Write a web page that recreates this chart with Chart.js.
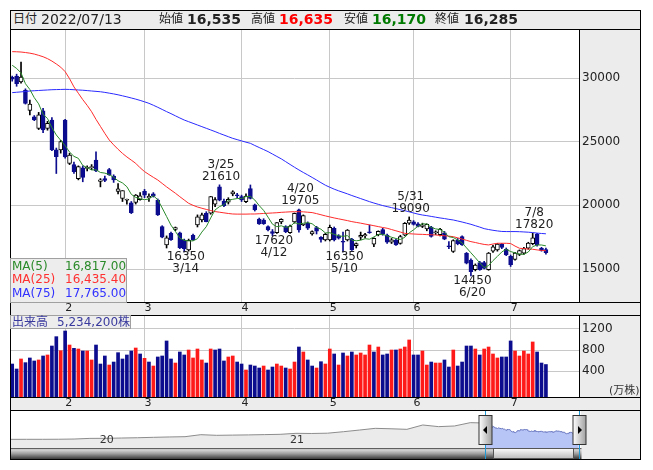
<!DOCTYPE html>
<html lang="ja"><head><meta charset="utf-8">
<script src="https://cdn.jsdelivr.net/npm/chart.js@4.4.1/dist/chart.umd.min.js"></script>
<style>
html,body{margin:0;padding:0;}
body{width:653px;height:470px;position:relative;overflow:hidden;background:#fff;font-family:"DejaVu Sans","Noto Sans CJK JP",sans-serif;color:#222;}
.a{position:absolute;box-sizing:border-box;white-space:nowrap;}
.bg{background:#ececec;}
.ln{background:#000;z-index:3;}
canvas{position:absolute;z-index:2;}
.t{position:absolute;z-index:4;white-space:nowrap;line-height:1;}
</style></head><body>
<div class="a bg" style="left:11px;top:11px;width:629px;height:18px"></div>
<div class="a" style="left:11px;top:30px;width:568px;height:272px;background:#fff"></div>
<div class="a bg" style="left:580px;top:30px;width:60px;height:272px"></div>
<div class="a bg" style="left:11px;top:303px;width:629px;height:12px"></div>
<div class="a bg" style="left:580px;top:316px;width:60px;height:81px"></div>
<div class="a bg" style="left:11px;top:398px;width:629px;height:12px"></div>
<div class="a bg" style="left:581px;top:411px;width:59px;height:48px"></div>

<div class="a ln" style="left:10px;top:10px;width:631px;height:1px"></div>
<div class="a ln" style="left:10px;top:459px;width:631px;height:1px"></div>
<div class="a ln" style="left:10px;top:10px;width:1px;height:450px"></div>
<div class="a ln" style="left:640px;top:10px;width:1px;height:450px"></div>
<div class="a ln" style="left:10px;top:29px;width:631px;height:1px"></div>
<div class="a ln" style="left:10px;top:302px;width:631px;height:1px"></div>
<div class="a ln" style="left:10px;top:315px;width:631px;height:1px"></div>
<div class="a ln" style="left:10px;top:397px;width:631px;height:1px"></div>
<div class="a ln" style="left:10px;top:410px;width:631px;height:1px"></div>
<div class="a ln" style="left:579px;top:30px;width:1px;height:272px"></div>
<div class="a ln" style="left:579px;top:316px;width:1px;height:81px"></div>

<div id="hdr"></div>

<div class="a" style="left:10px;top:258px;width:117px;height:45px;background:#ededed;border:1px solid #a0a0a0;z-index:4"></div>
<div id="maLegend"></div>

<div class="a" style="left:10px;top:315px;width:121px;height:14px;background:#ededed;border:1px solid #a0a0a0;z-index:4"></div>
<div id="volLabel"></div>
<div class="t" style="left:609px;top:385px;font-size:11px;color:#333">(万株)</div>

<canvas id="main" width="630" height="285" style="left:10px;top:30px;width:630px;height:285px"></canvas>
<canvas id="vol" width="630" height="94" style="left:10px;top:316px;width:630px;height:94px"></canvas>
<canvas id="nav" width="630" height="48" style="left:10px;top:411px;width:630px;height:48px"></canvas>

<script>
// ---------------- DATA ----------------
const year = 2022;
const dates = ['1/14','1/17','1/18','1/19','1/20','1/21','1/24','1/25','1/26','1/27','1/28','1/31',
'2/1','2/2','2/3','2/4','2/7','2/8','2/9','2/10','2/14','2/15','2/16','2/17','2/18','2/21','2/22','2/24','2/25','2/28',
'3/1','3/2','3/3','3/4','3/7','3/8','3/9','3/10','3/11','3/14','3/15','3/16','3/17','3/18','3/22','3/23','3/24','3/25','3/28','3/29','3/30','3/31',
'4/1','4/4','4/5','4/6','4/7','4/8','4/11','4/12','4/13','4/14','4/15','4/18','4/19','4/20','4/21','4/22','4/25','4/26','4/27','4/28',
'5/2','5/6','5/9','5/10','5/11','5/12','5/13','5/16','5/17','5/18','5/19','5/20','5/23','5/24','5/25','5/26','5/27','5/30','5/31',
'6/1','6/2','6/3','6/6','6/7','6/8','6/9','6/10','6/13','6/14','6/15','6/16','6/17','6/20','6/21','6/22','6/23','6/24','6/27','6/28','6/29','6/30',
'7/1','7/4','7/5','7/6','7/7','7/8','7/11','7/12','7/13'];

const opens = [30050,30150,29700,29050,27450,26960,26050,27430,26050,26700,24350,24350,
26700,23300,23200,22100,22950,22900,22950,23550,21880,22100,22800,22300,21100,20550,20400,20200,20230,20450,
21100,20600,20900,20420,18330,16900,17800,18100,17850,17280,16500,17650,18460,18850,19380,19380,20100,21450,20340,20250,20900,20800,
20680,20290,21320,20030,18930,18850,18330,17940,17850,18700,18330,17850,18700,19640,18460,18590,17750,18250,17490,17280,
17280,18200,17600,17150,17280,17330,16830,17500,17600,17900,16950,17700,18100,17670,17100,17280,17000,17650,18600,
18700,18550,18350,18150,18300,17850,17700,17850,16800,16380,17280,17550,16230,15700,14950,15500,15500,14950,16400,16500,16950,16550,
16000,15750,16150,16250,16630,16980,17750,16630,16535];
const highs = [30150,30300,31250,29150,28270,27050,27300,27620,26600,26900,24500,25100,
26750,24100,23400,23100,23100,23100,23200,24200,22100,22300,22900,22400,21700,21150,20500,20300,20850,21000,
21250,20900,21000,20500,18400,17600,17900,18300,17900,17350,17350,17750,19250,19400,19500,20700,20600,21610,20500,20600,21150,20950,
20800,20900,21600,20100,19000,18950,18400,18100,18650,18950,18400,18450,19400,19705,19250,18700,18000,18350,17550,17800,
18450,18300,17700,17900,18100,17400,17050,17900,17800,18450,17450,18000,18200,17750,17400,17350,17650,18650,19090,
18800,18650,18600,18550,18350,18000,18200,17950,17150,17300,17400,17600,16300,15800,15400,15600,15600,16300,16850,17000,17000,16650,
16100,16300,16500,16700,17100,17820,17800,16700,16635];
const lows = [29750,29350,29600,27950,27100,26650,25950,25700,25900,24300,22500,24100,
23700,23200,22500,22000,21850,22700,22800,22650,21450,21850,22350,21800,20900,20300,20100,19350,20100,20400,
20600,20300,20650,19200,17450,16650,17250,18000,16600,16350,16400,17250,18300,18700,18700,19300,19900,20350,19900,20100,20750,20600,
20300,20200,20500,19550,18500,18500,18000,17620,17800,18550,17850,17800,18600,17900,18400,18100,17650,17750,17100,17200,
17200,17200,17350,16350,17200,16450,16650,17300,17450,17800,16750,17600,17650,17000,17000,16850,16950,17600,18500,
18450,18300,18250,18000,17500,17700,17600,17300,16600,16300,16900,16850,15400,14450,14850,14900,15000,14900,16300,16400,16600,16050,
15200,15700,16050,16150,16550,16900,16800,16400,16170];
const closes = [29900,29550,30080,28000,27960,26700,27100,25920,26440,24350,23820,25000,
23800,23950,22650,23050,22200,22950,23050,22700,22000,21950,22400,22000,21300,21150,20450,19430,20800,20750,
20800,20700,20720,19250,17500,17450,17300,18250,16650,16600,17250,17300,19100,19250,18720,20680,20450,20400,19980,20470,21070,20750,
20420,20730,20550,19640,18540,18560,18070,17800,18640,18900,17940,18380,19370,18070,19190,18200,17930,17980,17330,17730,
18280,17280,17420,17100,18050,16500,17000,17650,17700,17850,17400,17950,17730,17100,17300,16900,17550,18590,18850,
18500,18350,18450,18500,17550,17900,18120,17350,16750,17230,16980,16900,15450,14800,15300,14950,15050,16250,16750,16950,16700,16100,
15350,16250,16450,16600,17030,17450,16900,16450,16285];
const prevClose = 30500;

// volume in 10,000 shares (万株)
const volumes = [533,438,629,559,648,591,610,686,705,876,1054,787,
1162,895,832,819,781,781,610,895,533,686,514,571,749,629,705,781,838,724,
641,571,495,667,686,972,629,552,762,705,800,648,819,610,552,819,800,819,591,667,686,571,
533,419,514,495,457,495,419,476,533,495,457,438,571,857,762,610,495,457,577,533,
819,724,514,743,686,762,705,743,705,895,762,857,705,724,800,800,819,857,991,
705,705,781,514,571,552,552,610,476,800,495,571,876,876,819,705,819,857,724,648,667,667,
972,781,686,781,724,953,762,552,523.42];

const ma5 = [31000,30750,30400,29550,29098,28458,27968,27136,26824,26102,
25526,25106,24682,24184,23844,23690,23130,22960,22780,22790,
22580,22530,22420,22210,21930,21760,21460,20866,20626,20516,
20446,20496,20754,20444,19794,19124,18444,17950,17430,17250,
17210,17210,17380,17900,18324,19010,19640,19900,20046,20396,
20474,20534,20538,20688,20704,20418,19976,19604,19072,18522,
18322,18394,18270,18332,18646,18532,18590,18642,18552,18274,
18126,17834,17850,17720,17608,17562,17626,17270,17214,17260,
17380,17340,17520,17710,17726,17606,17496,17396,17316,17488,
17838,18078,18368,18548,18530,18270,18150,18104,17884,17534,
17470,17286,17042,16662,16272,15886,15480,15110,15270,15660,
15990,16340,16550,16370,16270,16170,16150,16336,16756,16886,
16886,16817];
const ma25 = [32070,32060,32040,32000,31950,31880,31780,31670,31520,31330,
31100,30850,30500,29950,29300,28800,28300,27850,27350,26750,
26200,25650,25130,24750,24400,24080,23800,23550,23300,22950,
22650,22420,22200,21990,21720,21450,21200,20950,20680,20420,
20160,20000,19870,19770,19680,19590,19510,19460,19410,19360,
19320,19310,19310,19310,19320,19320,19340,19360,19380,19400,
19420,19450,19470,19490,19500,19500,19490,19460,19430,19350,
19260,19170,19090,19010,18940,18870,18800,18720,18660,18600,
18530,18470,18400,18330,18260,18200,18100,18000,17900,17800,
17770,17750,17730,17720,17700,17690,17670,17640,17610,17580,
17540,17450,17350,17250,17150,17080,17000,16930,16890,16960,
17020,17020,17020,17000,16800,16630,16600,16570,16550,16500,
16460,16435.4];
const ma75 = [28850,28880,28910,28940,28980,29000,29020,29040,29060,29080,
29090,29100,29110,29100,29080,29060,29040,29010,28980,28950,
28920,28870,28810,28750,28680,28600,28520,28430,28340,28240,
28130,28010,27860,27700,27530,27360,27200,27030,26860,26700,
26570,26440,26310,26180,26050,25920,25790,25650,25520,25390,
25260,25160,25060,24960,24870,24700,24540,24380,24220,24030,
23840,23650,23430,23210,22990,22780,22580,22390,22190,21990,
21780,21580,21420,21270,21140,21020,20900,20770,20650,20530,
20410,20290,20180,20080,19980,19900,19820,19740,19660,19580,
19490,19400,19310,19240,19190,19130,19070,19010,18960,18900,
18850,18770,18690,18600,18510,18400,18290,18170,18100,18040,
17990,17950,17940,17940,17940,17930,17910,17890,17860,17820,
17790,17765];

const priceTicks = [15000,20000,25000,30000];
const volTicks = [400,800,1200];
const highMarks = ['3/25','4/20','5/31','7/8'];
const lowMarks = ['3/14','4/12','5/10','6/20'];

// long-term navigator (monthly closes before the window)
const navMonths = ['2019-07','2019-08','2019-09','2019-10','2019-11','2019-12',
'2020-01','2020-02','2020-03','2020-04','2020-05','2020-06','2020-07','2020-08','2020-09','2020-10','2020-11','2020-12',
'2021-01','2021-02','2021-03','2021-04','2021-05','2021-06','2021-07','2021-08','2021-09','2021-10','2021-11','2021-12'];
const navCloses = [6950,7000,7000,7100,7400,8300,
8400,8800,9200,9800,10300,10700,13500,12600,12900,13200,13600,14000,
15400,15200,15600,17700,20000,22400,21800,21000,27100,24800,25700,30400];
const navYears = [2020,2021];

// ---------------- BUILD ----------------
const FONT = '"DejaVu Sans","Noto Sans CJK JP",sans-serif';
const NAVY = '#0c0c8e', RED = '#ff1a1a';
const N = dates.length, last = N - 1;
const labels = dates.concat(['','','','','','','']);
const mon = d => d ? +d.split('/')[0] : 0;
const isMonthStart = i => i > 0 && i < N && mon(dates[i]) !== mon(dates[i-1]);
const up = closes.map((c,i) => c >= opens[i]);
const volUp = closes.map((c,i) => c >= (i ? closes[i-1] : prevClose));
const fmt = (v,d) => v.toLocaleString('en-US',{minimumFractionDigits:d||0,maximumFractionDigits:d||0});

// header
(function(){
  const h = document.getElementById('hdr');
  const [m,d] = dates[last].split('/');
  const ds = year + '/' + String(m).padStart(2,'0') + '/' + String(d).padStart(2,'0');
  const items = [
    [13,'日付',12,'400','#222'],[41,ds,14,'400','#222'],
    [159,'始値',12,'400','#222'],[187,fmt(opens[last]),14,'700','#222'],
    [251,'高値',12,'400','#222'],[279,fmt(highs[last]),14,'700','#ff0000'],
    [344,'安値',12,'400','#222'],[372,fmt(lows[last]),14,'700','#007a00'],
    [435,'終値',12,'400','#222'],[464,fmt(closes[last]),14,'700','#222']];
  items.forEach(([x,t,s,w,c]) => {
    const e = document.createElement('div'); e.className='t';
    e.style.cssText += `left:${x}px;top:${20 - s*0.55}px;font-size:${s}px;font-weight:${w};color:${c}`;
    e.textContent = t; h.appendChild(e);
  });
  const L = document.getElementById('maLegend');
  [['MA(5)',ma5,'#2a8a2a'],['MA(25)',ma25,'#ff3030'],['MA(75)',ma75,'#3030ff']].forEach(([n,a,c],k)=>{
    const y = 266 + k*13.5 - 6.5;
    const e1 = document.createElement('div'); e1.className='t';
    e1.style.cssText += `left:12px;top:${y}px;font-size:12px;color:${c}`; e1.textContent=n; L.appendChild(e1);
    const e2 = document.createElement('div'); e2.className='t';
    e2.style.cssText += `left:65px;top:${y}px;font-size:12px;color:${c}`; e2.textContent=fmt(a[a.length-1],2); L.appendChild(e2);
  });
  const V = document.getElementById('volLabel');
  const e1 = document.createElement('div'); e1.className='t';
  e1.style.cssText += 'left:12px;top:316px;font-size:12px;color:#3a3a9e'; e1.textContent='出来高'; V.appendChild(e1);
  const e2 = document.createElement('div'); e2.className='t';
  e2.style.cssText += 'left:57px;top:316px;font-size:12px;color:#3a3a9e'; e2.textContent=fmt(Math.round(volumes[last]*10000))+'株'; V.appendChild(e2);
})();

function xScale(){
  return {
    offset:true,
    grid:{offset:false, drawTicks:false, color:c => isMonthStart(c.index) ? '#c8c8c8' : 'rgba(0,0,0,0)'},
    border:{display:false},
    ticks:{autoSkip:false, maxRotation:0, minRotation:0, padding:0, labelOffset:3.5, color:'#222',
      font:{family:FONT,size:11}, callback:(v,i) => isMonthStart(i) ? String(mon(dates[i])) : ''},
    afterFit:s => { s.height = 13; s.paddingLeft = 0; s.paddingRight = 0; }
  };
}
function yScale(min, max, tickList){
  return {position:'right', min, max,
    grid:{color:'#c8c8c8', drawTicks:false}, border:{display:false},
    ticks:{padding:3, color:'#222', font:{family:FONT,size:12}, callback:v => String(v)},
    afterBuildTicks:s => { s.ticks = tickList.map(v=>({value:v})); },
    afterFit:s => { s.width = 61; s.paddingTop = 0; s.paddingBottom = 0; }};
}
const common = {responsive:false, animation:false, devicePixelRatio:1, layout:{padding:0},
  plugins:{legend:{display:false}, tooltip:{enabled:false}}};

const annot = {
  id:'annot',
  afterDatasetsDraw(chart){
    const {ctx, scales:{x,y}} = chart;
    ctx.save();
    ctx.font = '12px ' + FONT; ctx.fillStyle = '#222'; ctx.textAlign = 'center';
    highMarks.forEach(d => {
      const i = dates.indexOf(d); const px = x.getPixelForValue(i) + 1.5, py = y.getPixelForValue(highs[i]);
      ctx.textBaseline = 'bottom';
      ctx.fillText(String(highs[i]), px, py - 2);
      ctx.fillText(d, px, py - 14);
    });
    lowMarks.forEach(d => {
      const i = dates.indexOf(d); const px = x.getPixelForValue(i) + 1.5, py = y.getPixelForValue(lows[i]);
      ctx.textBaseline = 'top';
      ctx.fillText(String(lows[i]), px, py - 1);
      ctx.fillText(d, px, py + 11);
    });
    ctx.restore();
  }
};

new Chart(document.getElementById('main'), {
  type:'bar',
  data:{labels, datasets:[
    {type:'line', data:ma5, borderColor:'#2a8a2a', borderWidth:1, pointRadius:0, order:0},
    {type:'line', data:ma25, borderColor:'#ff2a2a', borderWidth:1, pointRadius:0, order:0},
    {type:'line', data:ma75, borderColor:'#2a2aff', borderWidth:1, pointRadius:0, order:0},
    {type:'bar', data:opens.map((o,i)=>[o,closes[i]]), grouped:false, barThickness:4, borderWidth:1, borderSkipped:false,
      minBarLength:1, backgroundColor:up.map(u=>u?'#ffffff':NAVY), borderColor:up.map(u=>u?'#000000':NAVY), order:1},
    {type:'bar', data:lows.map((l,i)=>[l,highs[i]]), grouped:false, barThickness:1,
      backgroundColor:up.map(u=>u?'#000000':NAVY), order:2}
  ]},
  options:Object.assign({}, common, {scales:{x:xScale(), y:yScale(12408.6, 33769.6, priceTicks)}}),
  plugins:[annot]
});

const VMIN = -95.2, VMAX = 1447.6;
new Chart(document.getElementById('vol'), {
  type:'bar',
  data:{labels, datasets:[
    {data:volumes, backgroundColor:volUp.map(u=>u?RED:NAVY), barThickness:3, base:VMIN}
  ]},
  options:Object.assign({}, common, {scales:{x:xScale(), y:yScale(VMIN, VMAX, volTicks)}})
});

// navigator
const cum = [0,31,59,90,120,151,181,212,243,273,304,334];
const doy = d => { const [m,dd] = d.split('/').map(Number); return cum[m-1] + dd; };
const selPts = dates.map((d,i) => ({x: year + (doy(d)-1)/365, y: closes[i]}));
const histPts = navMonths.map((s,i) => { const [yy,mm] = s.split('-').map(Number); return {x: yy + (mm-0.5)/12, y: navCloses[i]}; });
histPts.push(selPts[0]);

const navDecor = {
  id:'navDecor',
  afterDraw(chart){
    const {ctx, chartArea:a, scales:{x}} = chart;
    const xl = Math.round(x.getPixelForValue(selPts[0].x)) + 0.5;
    const xr = Math.round(x.getPixelForValue(selPts[N-1].x)) + 0.5;
    ctx.save();
    ctx.font = '11px ' + FONT; ctx.fillStyle = '#333'; ctx.textBaseline = 'middle'; ctx.textAlign = 'left';
    navYears.forEach(yv => ctx.fillText(String(yv).slice(2), x.getPixelForValue(yv) + 2, 29));
    const top = a.bottom, hb = 11;
    let g = ctx.createLinearGradient(0, top, 0, top + hb);
    g.addColorStop(0,'#2a2a2a'); g.addColorStop(0.15,'#d8d8d8'); g.addColorStop(0.5,'#a0a0a0'); g.addColorStop(1,'#3a3a3a');
    ctx.fillStyle = g; ctx.fillRect(a.left, top, xr + 2 - a.left, hb);
    g = ctx.createLinearGradient(0, top, 0, top + hb);
    g.addColorStop(0,'#ffffff'); g.addColorStop(1,'#b8b8b8');
    ctx.fillStyle = g; ctx.fillRect(xl + 8, top + 1, xr - 6 - (xl + 8), hb - 1);
    ctx.strokeStyle = '#555'; ctx.lineWidth = 1; ctx.strokeRect(xl + 8, top + 0.5, xr - 6 - (xl + 8), hb - 1);
    ctx.strokeStyle = '#1e9bd7';
    [xl, xr].forEach(p => { ctx.beginPath(); ctx.moveTo(p, 0); ctx.lineTo(p, top + hb); ctx.stroke(); });
    [[xl,-1],[xr,1]].forEach(([p,dir]) => {
      const w = 13, h = 29, t = 4.5, l = p - 6.5;
      const hg = ctx.createLinearGradient(l, 0, l + w, 0);
      hg.addColorStop(0,'#ffffff'); hg.addColorStop(1,'#a0a0a0');
      ctx.fillStyle = hg; ctx.fillRect(l, t, w, h);
      ctx.strokeStyle = '#333'; ctx.strokeRect(l, t, w, h);
      ctx.fillStyle = '#000'; ctx.beginPath();
      const cy = t + h/2, cx = p;
      if (dir < 0) { ctx.moveTo(cx-2.5, cy); ctx.lineTo(cx+1.5, cy-4); ctx.lineTo(cx+1.5, cy+4); }
      else { ctx.moveTo(cx+2.5, cy); ctx.lineTo(cx-1.5, cy-4); ctx.lineTo(cx-1.5, cy+4); }
      ctx.closePath(); ctx.fill();
    });
    ctx.restore();
  }
};

new Chart(document.getElementById('nav'), {
  type:'line',
  data:{datasets:[
    {data:histPts, borderColor:'#8c8c8c', borderWidth:1, pointRadius:0, fill:'start', backgroundColor:'#ebebeb'},
    {data:selPts, borderColor:'#6a78c0', borderWidth:1, pointRadius:0, fill:'start', backgroundColor:'#b6c4f6'}
  ]},
  options:Object.assign({}, common, {
    layout:{padding:{right:61, bottom:11}},
    scales:{
      x:{type:'linear', min:2019.538, max:2022.53, display:false},
      y:{min:-5200, max:46750, display:false}
    }
  }),
  plugins:[navDecor]
});
</script>
</body></html>
